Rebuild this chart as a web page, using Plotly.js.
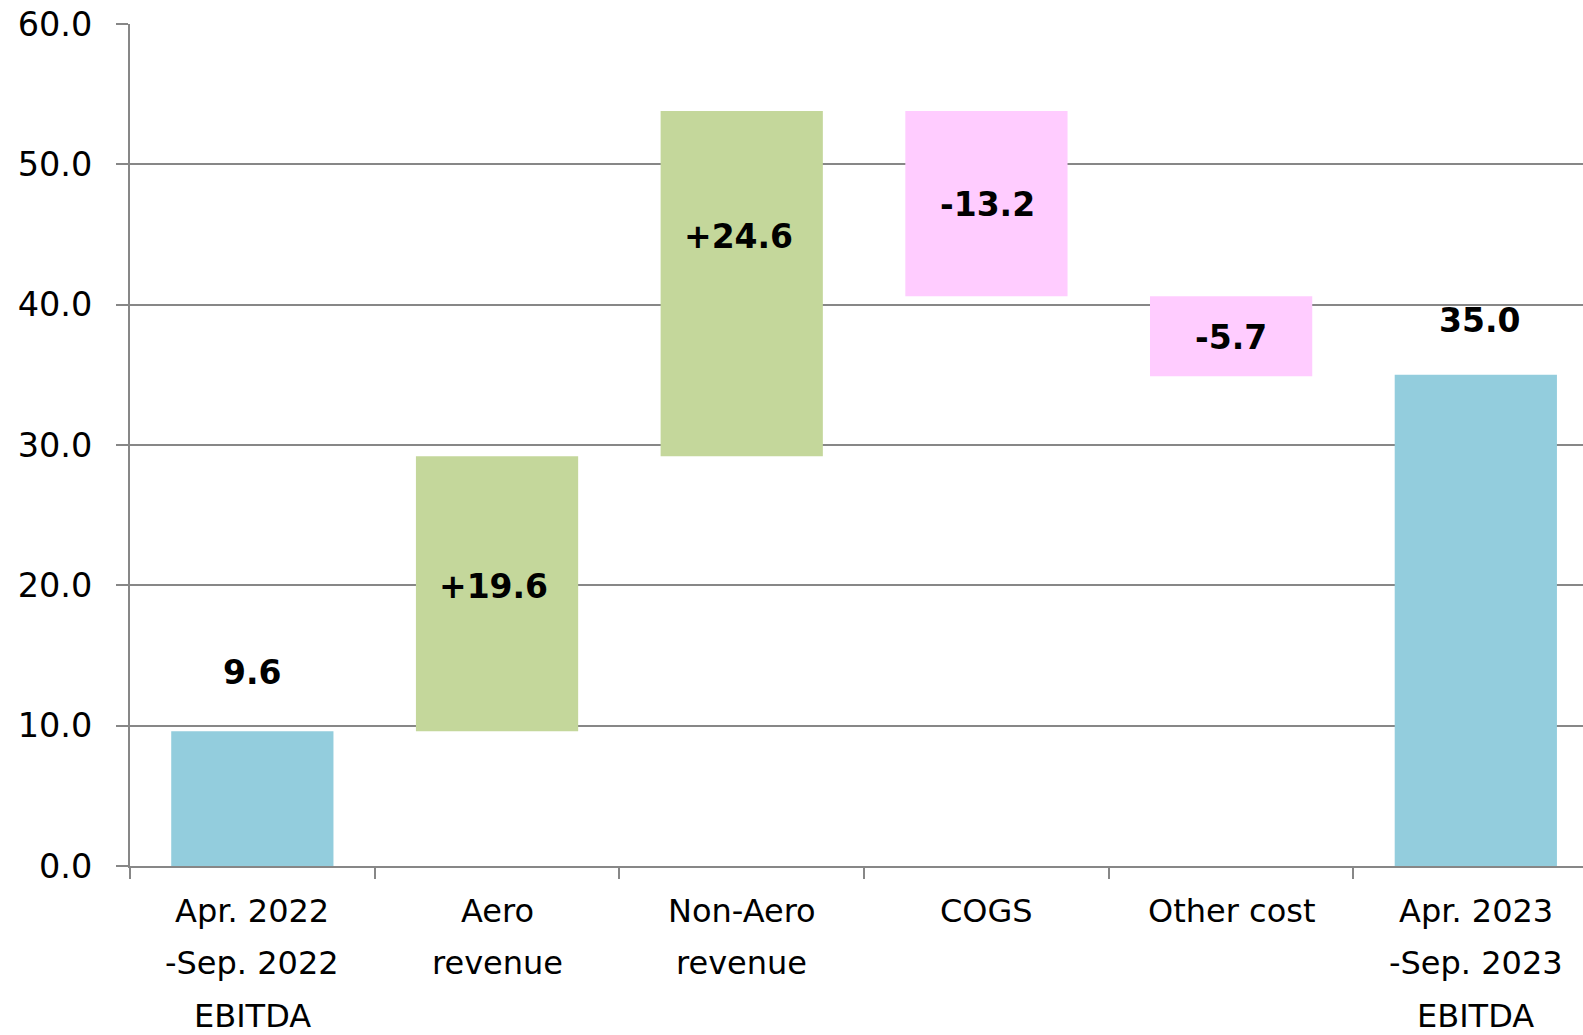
<!DOCTYPE html>
<html>
<head>
<meta charset="utf-8">
<script src="https://cdn.plot.ly/plotly-3.0.1.min.js"></script>
<style>html,body{margin:0;padding:0;background:#fff;}#chart{width:1583px;height:1035px;}</style>
</head>
<body>
<div id="chart"></div>
<script>
// ---- data ----
const categories = ["Apr. 2022<br>-Sep. 2022<br>EBITDA", "Aero<br>revenue", "Non-Aero<br>revenue", "COGS", "Other cost", "Apr. 2023<br>-Sep. 2023<br>EBITDA"];
const measures = ["absolute", "relative", "relative", "relative", "relative", "absolute"];
const values = [9.6, 19.6, 24.6, -13.2, -5.7, 35.0];
const yTickVals = [0, 10, 20, 30, 40, 50, 60];

// ---- styles ----
const colTotal = "#93CDDD", colUp = "#C4D79B", colDown = "#FFCCFF";
const gridCol = "#878787";
const labelShift = [59, 7, 47, -1, -1, 54]; // px offset of value labels
const labelXShift = [0, -4, -3, 1, 0, 4];
const lineShift = [45, 97, 150];             // px below axis for category label lines

// value labels computed from the data
const annotations = [];
let run = 0;
values.forEach((v, i) => {
  let y, txt;
  if (measures[i] === "absolute") {
    run = v; y = v; txt = v.toFixed(1);
  } else {
    const start = run; run = run + v; y = (start + run) / 2;
    txt = (v > 0 ? "+" : "") + v.toFixed(1);
  }
  annotations.push({
    x: categories[i], y: y, xref: "x", yref: "y", text: txt, showarrow: false,
    yanchor: "middle", xanchor: "center", yshift: labelShift[i], xshift: labelXShift[i],
    font: {family: "DejaVu Sans", size: 33, color: "#000", weight: "bold"}
  });
});
// category labels, one annotation per line
categories.forEach((c) => {
  c.split("<br>").forEach((line, j) => {
    annotations.push({
      x: c, y: 0, xref: "x", yref: "paper", text: line, showarrow: false,
      yanchor: "middle", xanchor: "center", yshift: -lineShift[j],
      font: {family: "DejaVu Sans", size: 32, color: "#000"}
    });
  });
});

const trace = {
  type: "waterfall",
  x: categories,
  y: values,
  measure: measures,
  textinfo: "none",
  connector: {visible: false},
  increasing: {marker: {color: colUp, line: {width: 0}}},
  decreasing: {marker: {color: colDown, line: {width: 0}}},
  totals: {marker: {color: colTotal, line: {width: 0}}},
  hoverinfo: "x+y"
};

const layout = {
  width: 1583, height: 1035,
  margin: {l: 130, r: 0, t: 24, b: 169, pad: 0},
  paper_bgcolor: "#fff", plot_bgcolor: "#fff",
  showlegend: false,
  waterfallgap: 0.337,
  font: {family: "DejaVu Sans", color: "#000"},
  xaxis: {
    type: "category",
    range: [-0.5, 5.438],
    tickson: "boundaries",
    ticks: "outside", ticklen: 11, tickwidth: 2, tickcolor: gridCol,
    showticklabels: false,
    showgrid: false,
    showline: true, linecolor: gridCol, linewidth: 2,
    zeroline: false, fixedrange: true
  },
  yaxis: {
    range: [0, 60],
    tickvals: yTickVals,
    tickformat: ".1f",
    ticks: "outside", ticklen: 12, tickwidth: 2, tickcolor: gridCol,
    ticklabelstandoff: 17,
    tickfont: {family: "DejaVu Sans", size: 33.5, color: "#000"},
    showgrid: true, gridcolor: gridCol, gridwidth: 2,
    showline: true, linecolor: gridCol, linewidth: 2,
    zeroline: false, fixedrange: true
  },
  annotations: annotations
};

Plotly.newPlot("chart", [trace], layout, {displayModeBar: false, staticPlot: true});
</script>
</body>
</html>
